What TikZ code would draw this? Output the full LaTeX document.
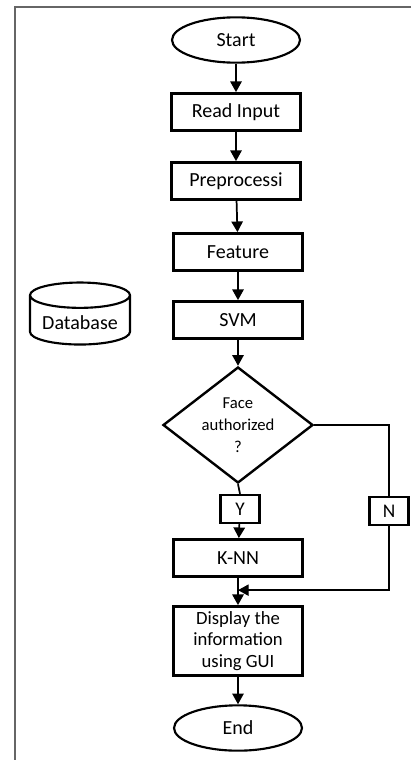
\documentclass[tikz,border=0pt]{standalone}
\usepackage{fontspec}
\setmainfont{Carlito}
\usepackage{tikz}
\usetikzlibrary{shapes.geometric,arrows.meta,positioning,calc}

\begin{document}
\begin{tikzpicture}[x=0.75pt, y=-0.75pt,
    box/.style={draw, line width=1.8pt, minimum width=97pt, minimum height=28pt, inner sep=2pt, font=\fontsize{15}{16}\selectfont},
    term/.style={draw, ellipse, line width=1.6pt, minimum width=96pt, minimum height=34pt, inner sep=0pt, font=\fontsize{15}{16}\selectfont},
    tag/.style={draw, line width=1.8pt, minimum width=29pt, minimum height=21pt, inner sep=0pt, font=\fontsize{14.5}{16}\selectfont},
    flow/.style={line width=1.3pt, -{Triangle[length=8pt, width=8.5pt]}},
    route/.style={line width=1pt}]
    \useasboundingbox (0,0) rectangle (411,760);
    % outer frame
    \draw[line width=1.2pt, black!60] (411,7) -- (15,7) -- (15,760);

    % main chain
    \node[term] (start) at (236,40) {Start};
    \node[box] (read) at (236,112) {Read Input};
    \node[box] (prep) at (236,181) {Preprocessi};
    \node[box] (feat) at (238,252) {Feature};
    \node[box] (svm) at (238,320) {SVM};
    \node[draw, diamond, line width=1.8pt, aspect=1.3, inner sep=0pt, minimum width=112.5pt, minimum height=87pt, align=center, font=\fontsize{12.5}{16.5}\selectfont] (face) at (238,425) {Face\\authorized\\?};
    \node[tag] (yes) at (240,509) {Y};
    \node[tag] (no) at (389,511) {N};
    \node[box] (knn) at (238,558) {K-NN};
    \node[box, minimum height=52pt, align=center, font=\fontsize{14}{16}\selectfont] (show) at (238,641) {Display the\\information\\using GUI};
    \node[term] (end) at (238,728) {End};

    % database, not connected
    \node[draw, cylinder, shape border rotate=90, aspect=0.3, line width=1.6pt, minimum width=75pt, minimum height=46.5pt, font=\fontsize{15}{16}\selectfont] (db) at (80,323) {Database};

    % arrows
    \draw[flow] (start) -- (read);
    \draw[flow] (read) -- (prep);
    \draw[flow] (prep) -- (feat);
    \draw[flow] (feat) -- (svm);
    \draw[flow] (svm) -- (face);
    \draw[line width=1.3pt] (face.south) -- (yes.north);
    \draw[flow] (yes) -- (knn);
    \draw[flow] (knn) -- (show);
    \draw[flow] (show) -- (end);
    % no branch
    \coordinate (join) at ($(knn.south)!0.45!(show.north)$);
    \draw[route] (face.east) -| (no.north);
    \draw[route, -{Triangle[length=8pt, width=8.5pt]}] (no.south) |- (join);
\end{tikzpicture}
\end{document}
